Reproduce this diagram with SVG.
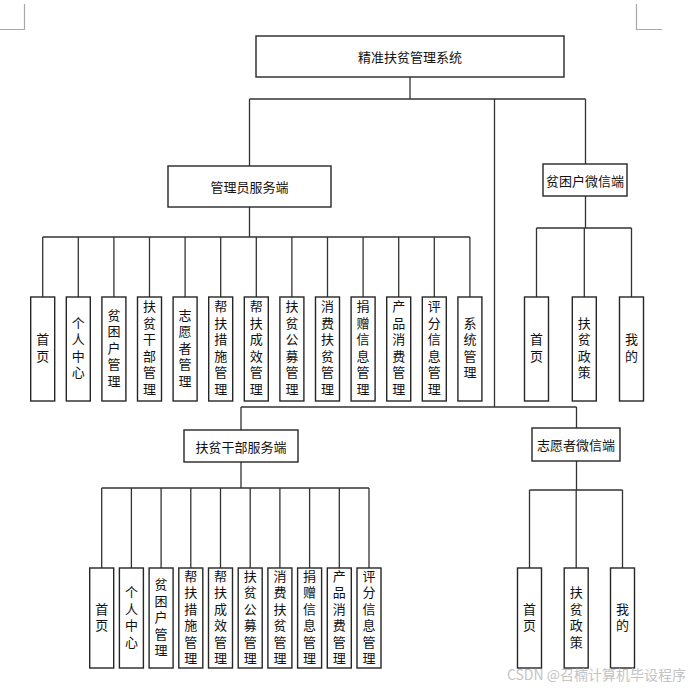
<svg xmlns="http://www.w3.org/2000/svg" width="694" height="688" viewBox="0 0 694 688">
<style>
.bg{fill:#ffffff}
.box{fill:#ffffff;stroke:#262626;stroke-width:1.4}
.ln{fill:none;stroke:#333333;stroke-width:1.3}
.mark{fill:none;stroke:#a8a8a8;stroke-width:1.2}
.t{font-family:"Noto Sans CJK SC","Liberation Sans",sans-serif;font-size:13px;fill:#111111;text-anchor:middle;dominant-baseline:central}
.wm{font-family:"Noto Sans CJK SC","Liberation Sans",sans-serif;font-size:14px;fill:#c4c4c4;text-anchor:end;dominant-baseline:central}
</style>
<rect class="bg" x="0" y="0" width="694" height="688"/>
<path class="mark" d="M24.5 4 V29.5 H0 M636.5 4 V29.5 H662"/>
<g id="connectors">
<path class="ln" d="M410 77 V99 M249.5 99 H585.5 M249.5 99 V166 M494.5 99 V407 M585.5 99 V164"/>
<path class="ln" d="M249.5 207 V237 M42.7 237 H469.9 M42.7 237 V297 M78.3 237 V297 M113.9 237 V297 M149.5 237 V297 M185.1 237 V297 M220.7 237 V297 M256.3 237 V297 M291.9 237 V297 M327.5 237 V297 M363.1 237 V297 M398.7 237 V297 M434.3 237 V297 M469.9 237 V297"/>
<path class="ln" d="M585.5 196 V228 M536.5 228 H631.5 M536.5 228 V297 M584.3 228 V297 M631.5 228 V297"/>
<path class="ln" d="M241 407 H576.5 M241 407 V430 M576.5 407 V428"/>
<path class="ln" d="M241 462 V488 M101.7 488 H369 M101.7 488 V568 M131.4 488 V568 M161.1 488 V568 M190.8 488 V568 M220.5 488 V568 M250.2 488 V568 M279.9 488 V568 M309.6 488 V568 M339.3 488 V568 M369 488 V568"/>
<path class="ln" d="M576.5 461 V490 M529.5 490 H622.5 M529.5 490 V568 M576.2 490 V568 M622.5 490 V568"/>
</g>
<g id="root"><rect class="box" x="256" y="36" width="308" height="41"/><text class="t" x="410" y="56.5">精准扶贫管理系统</text></g>
<g id="admin"><rect class="box" x="168" y="166" width="163" height="41"/><text class="t" x="249.5" y="186">管理员服务端</text></g>
<g id="poor"><rect class="box" x="543" y="164" width="84" height="32"/><text class="t" x="585" y="180">贫困户微信端</text></g>
<g id="cadre"><rect class="box" x="184" y="430" width="114" height="32"/><text class="t" x="241" y="446">扶贫干部服务端</text></g>
<g id="volunteer"><rect class="box" x="532" y="428" width="88" height="33"/><text class="t" x="576" y="444.5">志愿者微信端</text></g>

<g id="a0"><rect class="box" x="30.7" y="297" width="24" height="104"/><text class="t" x="42.7 42.7" y="338.75 355.25">首页</text></g>
<g id="a1"><rect class="box" x="66.3" y="297" width="24" height="104"/><text class="t" x="78.3 78.3 78.3 78.3" y="322.25 338.75 355.25 371.75">个人中心</text></g>
<g id="a2"><rect class="box" x="101.9" y="297" width="24" height="104"/><text class="t" x="113.9 113.9 113.9 113.9 113.9" y="314 330.5 347 363.5 380">贫困户管理</text></g>
<g id="a3"><rect class="box" x="137.5" y="297" width="24" height="104"/><text class="t" x="149.5 149.5 149.5 149.5 149.5 149.5" y="305.75 322.25 338.75 355.25 371.75 388.25">扶贫干部管理</text></g>
<g id="a4"><rect class="box" x="173.1" y="297" width="24" height="104"/><text class="t" x="185.1 185.1 185.1 185.1 185.1" y="314 330.5 347 363.5 380">志愿者管理</text></g>
<g id="a5"><rect class="box" x="208.7" y="297" width="24" height="104"/><text class="t" x="220.7 220.7 220.7 220.7 220.7 220.7" y="305.75 322.25 338.75 355.25 371.75 388.25">帮扶措施管理</text></g>
<g id="a6"><rect class="box" x="244.3" y="297" width="24" height="104"/><text class="t" x="256.3 256.3 256.3 256.3 256.3 256.3" y="305.75 322.25 338.75 355.25 371.75 388.25">帮扶成效管理</text></g>
<g id="a7"><rect class="box" x="279.9" y="297" width="24" height="104"/><text class="t" x="291.9 291.9 291.9 291.9 291.9 291.9" y="305.75 322.25 338.75 355.25 371.75 388.25">扶贫公募管理</text></g>
<g id="a8"><rect class="box" x="315.5" y="297" width="24" height="104"/><text class="t" x="327.5 327.5 327.5 327.5 327.5 327.5" y="305.75 322.25 338.75 355.25 371.75 388.25">消费扶贫管理</text></g>
<g id="a9"><rect class="box" x="351.1" y="297" width="24" height="104"/><text class="t" x="363.1 363.1 363.1 363.1 363.1 363.1" y="305.75 322.25 338.75 355.25 371.75 388.25">捐赠信息管理</text></g>
<g id="a10"><rect class="box" x="386.7" y="297" width="24" height="104"/><text class="t" x="398.7 398.7 398.7 398.7 398.7 398.7" y="305.75 322.25 338.75 355.25 371.75 388.25">产品消费管理</text></g>
<g id="a11"><rect class="box" x="422.3" y="297" width="24" height="104"/><text class="t" x="434.3 434.3 434.3 434.3 434.3 434.3" y="305.75 322.25 338.75 355.25 371.75 388.25">评分信息管理</text></g>
<g id="a12"><rect class="box" x="457.9" y="297" width="24" height="104"/><text class="t" x="469.9 469.9 469.9 469.9" y="322.25 338.75 355.25 371.75">系统管理</text></g>

<g id="p0"><rect class="box" x="524.5" y="297" width="24" height="104"/><text class="t" x="536.5 536.5" y="338.75 355.25">首页</text></g>
<g id="p1"><rect class="box" x="572.3" y="297" width="24" height="104"/><text class="t" x="584.3 584.3 584.3 584.3" y="322.25 338.75 355.25 371.75">扶贫政策</text></g>
<g id="p2"><rect class="box" x="619.5" y="297" width="24" height="104"/><text class="t" x="631.5 631.5" y="338.75 355.25">我的</text></g>

<g id="c0"><rect class="box" x="89.7" y="568" width="24" height="100"/><text class="t" x="101.7 101.7" y="608.25 624.75">首页</text></g>
<g id="c1"><rect class="box" x="119.4" y="568" width="24" height="100"/><text class="t" x="131.4 131.4 131.4 131.4" y="591.75 608.25 624.75 641.25">个人中心</text></g>
<g id="c2"><rect class="box" x="149.1" y="568" width="24" height="100"/><text class="t" x="161.1 161.1 161.1 161.1 161.1" y="583.5 600 616.5 633 649.5">贫困户管理</text></g>
<g id="c3"><rect class="box" x="178.8" y="568" width="24" height="100"/><text class="t" x="190.8 190.8 190.8 190.8 190.8 190.8" y="575.25 591.75 608.25 624.75 641.25 657.75">帮扶措施管理</text></g>
<g id="c4"><rect class="box" x="208.5" y="568" width="24" height="100"/><text class="t" x="220.5 220.5 220.5 220.5 220.5 220.5" y="575.25 591.75 608.25 624.75 641.25 657.75">帮扶成效管理</text></g>
<g id="c5"><rect class="box" x="238.2" y="568" width="24" height="100"/><text class="t" x="250.2 250.2 250.2 250.2 250.2 250.2" y="575.25 591.75 608.25 624.75 641.25 657.75">扶贫公募管理</text></g>
<g id="c6"><rect class="box" x="267.9" y="568" width="24" height="100"/><text class="t" x="279.9 279.9 279.9 279.9 279.9 279.9" y="575.25 591.75 608.25 624.75 641.25 657.75">消费扶贫管理</text></g>
<g id="c7"><rect class="box" x="297.6" y="568" width="24" height="100"/><text class="t" x="309.6 309.6 309.6 309.6 309.6 309.6" y="575.25 591.75 608.25 624.75 641.25 657.75">捐赠信息管理</text></g>
<g id="c8"><rect class="box" x="327.3" y="568" width="24" height="100"/><text class="t" x="339.3 339.3 339.3 339.3 339.3 339.3" y="575.25 591.75 608.25 624.75 641.25 657.75">产品消费管理</text></g>
<g id="c9"><rect class="box" x="357" y="568" width="24" height="100"/><text class="t" x="369 369 369 369 369 369" y="575.25 591.75 608.25 624.75 641.25 657.75">评分信息管理</text></g>

<g id="v0"><rect class="box" x="517.5" y="568" width="24" height="100"/><text class="t" x="529.5 529.5" y="608.25 624.75">首页</text></g>
<g id="v1"><rect class="box" x="564.2" y="568" width="24" height="100"/><text class="t" x="576.2 576.2 576.2 576.2" y="591.75 608.25 624.75 641.25">扶贫政策</text></g>
<g id="v2"><rect class="box" x="610.5" y="568" width="24" height="100"/><text class="t" x="622.5 622.5" y="608.25 624.75">我的</text></g>

<text class="wm" x="686" y="674">CSDN @召楠计算机毕设程序</text>
</svg>
